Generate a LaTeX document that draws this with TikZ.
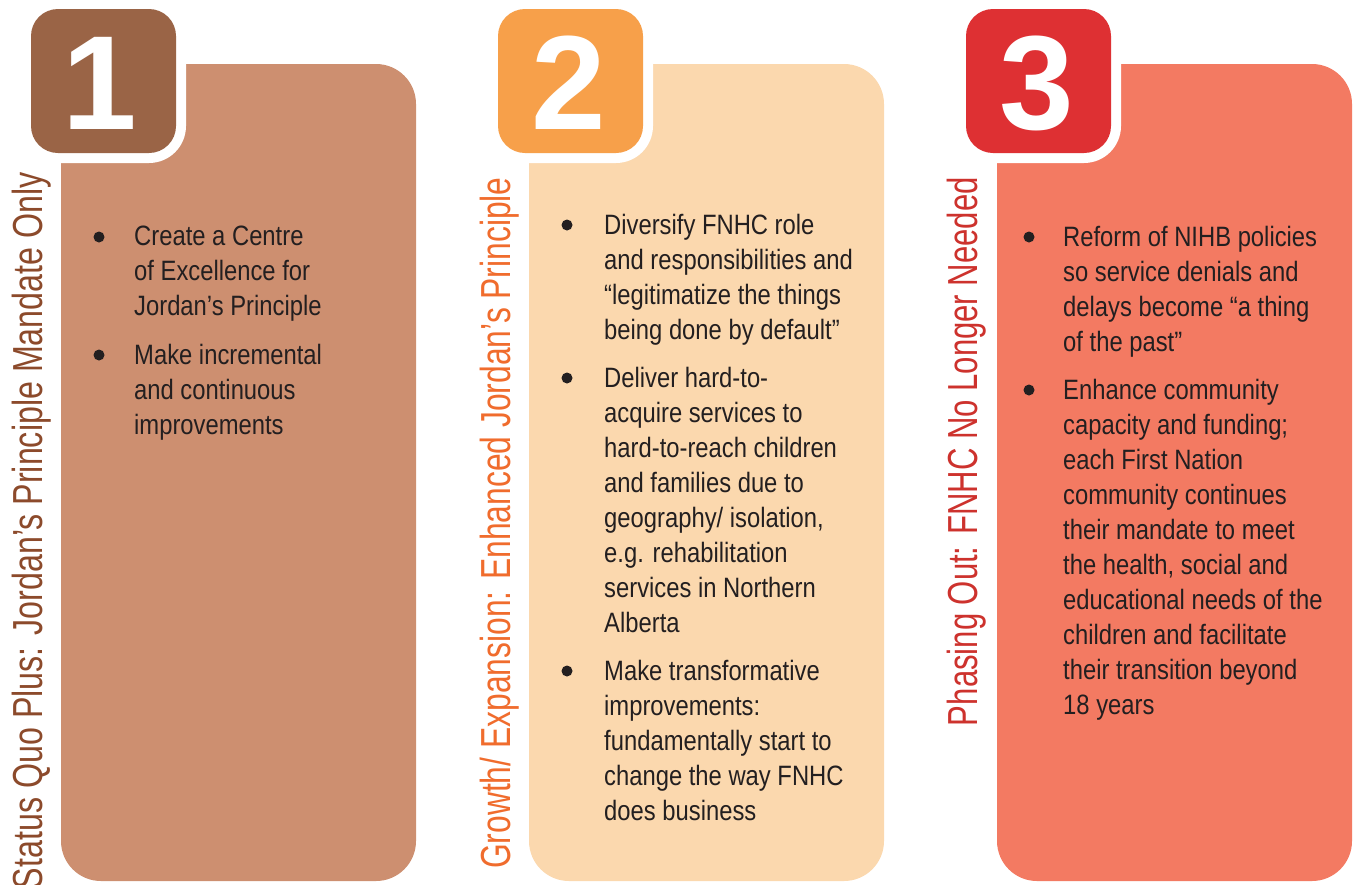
\documentclass[tikz,border=0pt]{standalone}
\usepackage{fontspec}
\setmainfont{Liberation Sans}
\newfontfamily\bodyf[FakeStretch=0.85]{Liberation Sans}
\newfontfamily\labfA[FakeStretch=0.767]{Liberation Sans}
\newfontfamily\labfB[FakeStretch=0.757]{Liberation Sans}
\newfontfamily\labfC[FakeStretch=0.74]{Liberation Sans}
\definecolor{txt}{HTML}{231F20}
\definecolor{bigA}{HTML}{CD8F70}
\definecolor{numA}{HTML}{9A6446}
\definecolor{labA}{HTML}{8C4A2B}
\definecolor{bigB}{HTML}{FBD8AE}
\definecolor{numB}{HTML}{F7A04A}
\definecolor{labB}{HTML}{F06C2D}
\definecolor{bigC}{HTML}{F37A62}
\definecolor{numC}{HTML}{DE3033}
\definecolor{labC}{HTML}{CD322D}
\tikzset{
  bigbox/.style={rounded corners=40pt},
  numbox/.style={rounded corners=27pt},
  halo/.style={fill=white, rounded corners=37pt},
  numtext/.style={text=white, font=\bfseries\fontsize{134}{134}\selectfont, inner sep=0},
  lab/.style={rotate=90, anchor=base east, inner sep=0},
  body/.style={anchor=north west, inner sep=0, align=left, text=txt,
    font=\bodyf\fontsize{28}{35}\selectfont,
    execute at begin node={\rule{0pt}{24pt}}},
  bul/.style={circle, fill=txt, inner sep=0, minimum size=11pt},
}
\begin{document}
\begin{tikzpicture}[x=1pt, y=-1pt]
\useasboundingbox (0,0) rectangle (1354,884);
% ---------- panel 1 ----------
\fill[bigA, bigbox] (61,64) rectangle (416,881);
\fill[halo] (21,-1) rectangle (186,163);
\fill[numA, numbox] (31,9) rectangle (176,153);
\node[numtext] (n1) at (100,83) {1};
\node[lab, text=labA, font=\labfA\fontsize{42}{42}\selectfont] (l1) at (42,172) {Status Quo Plus: Jordan’s Principle Mandate Only};
\node[bul] (b11) at (99,237) {};
\node[body] (t11) at (134,226) {Create a Centre\\of Excellence for\\Jordan’s Principle};
\node[bul] (b12) at (99,355) {};
\node[body] (t12) at (134,344) {Make incremental\\and continuous\\improvements};
% ---------- panel 2 ----------
\fill[bigB, bigbox] (529,64) rectangle (884,881);
\fill[halo] (488,-1) rectangle (653,163);
\fill[numB, numbox] (498,9) rectangle (643,153);
\node[numtext] (n2) at (569,83) {2};
\node[lab, text=labB, font=\labfB\fontsize{42}{42}\selectfont] (l2) at (510,177) {Growth/ Expansion: Enhanced Jordan’s Principle};
\node[bul] (b21) at (567,225) {};
\node[body] (t21) at (604,214) {Diversify FNHC role\\and responsibilities and\\“legitimatize the things\\being done by default”};
\node[bul] (b22) at (567,378) {};
\node[body] (t22) at (604,367) {Deliver hard-to-\\acquire services to\\hard-to-reach children\\and families due to\\geography/ isolation,\\e.g. rehabilitation\\services in Northern\\Alberta};
\node[bul] (b23) at (567,671) {};
\node[body] (t23) at (604,660) {Make transformative\\improvements:\\fundamentally start to\\change the way FNHC\\does business};
% ---------- panel 3 ----------
\fill[bigC, bigbox] (997,64) rectangle (1352,881);
\fill[halo] (956,-1) rectangle (1121,163);
\fill[numC, numbox] (966,9) rectangle (1111,153);
\node[numtext] (n3) at (1037,83) {3};
\node[lab, text=labC, font=\labfC\fontsize{42}{42}\selectfont] (l3) at (977,177) {Phasing Out: FNHC No Longer Needed};
\node[bul] (b31) at (1029,237) {};
\node[body] (t31) at (1063,226) {Reform of NIHB policies\\so service denials and\\delays become “a thing\\of the past”};
\node[bul] (b32) at (1029,390) {};
\node[body] (t32) at (1063,379) {Enhance community\\capacity and funding;\\each First Nation\\community continues\\their mandate to meet\\the health, social and\\educational needs of the\\children and facilitate\\their transition beyond\\18 years};
\end{tikzpicture}
\end{document}
